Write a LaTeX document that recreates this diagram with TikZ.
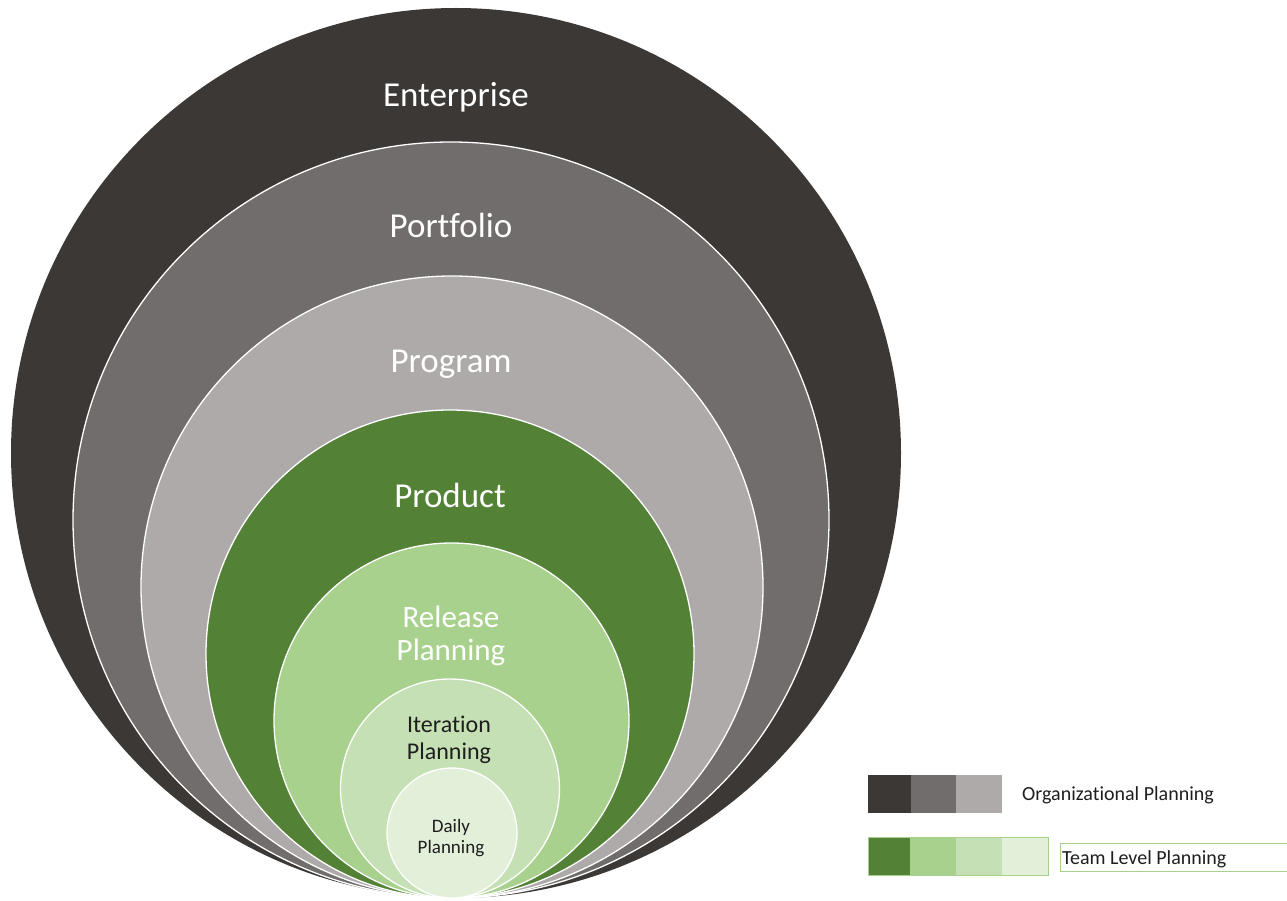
\documentclass[tikz,border=0pt]{standalone}
\usepackage{fontspec}
\setmainfont{Carlito}[Ligatures={NoCommon,NoRequired,NoContextual}]
\definecolor{entc}{HTML}{3B3836}
\definecolor{portc}{HTML}{716D6C}
\definecolor{progc}{HTML}{AEAAAA}
\definecolor{prodc}{HTML}{538135}
\definecolor{relc}{HTML}{A9D18E}
\definecolor{iterc}{HTML}{C5E0B4}
\definecolor{dayc}{HTML}{E2F0D9}
\definecolor{inkc}{HTML}{1E1E1E}
\definecolor{keyedge}{HTML}{A9D18E}
\begin{document}
\begin{tikzpicture}[x=1pt,y=-1pt,
  ring/.style={circle, inner sep=0pt, outer sep=0pt, draw=white, line width=1.3pt},
  lbl/.style={anchor=base, inner sep=0pt, text=white},
  dlbl/.style={anchor=base, inner sep=0pt, text=inkc},
  swatch/.style={rectangle, inner sep=0pt, outer sep=0pt, anchor=north west},
  keytext/.style={anchor=base west, inner sep=0pt, text=inkc, font=\fontsize{20}{24}\selectfont}]
\useasboundingbox (0,0) rectangle (1287,901);

% nested planning levels, all touching at the bottom
\node[ring, draw=none, fill=entc, minimum size=890pt] (ent) at (456,453) {};
\node[ring, fill=portc, minimum size=756pt] (port) at (451,520) {};
\node[ring, fill=progc, minimum size=622pt] (prog) at (452,587) {};
\node[ring, fill=prodc, minimum size=488pt] (prod) at (450,654) {};
\node[ring, fill=relc, minimum size=355pt] (rel) at (451.5,720.5) {};
\node[ring, fill=iterc, minimum size=219pt] (iter) at (450,788.5) {};
\node[ring, fill=dayc, minimum size=130pt] (day) at (452,833) {};

% level names
\node[lbl, font=\fontsize{35}{40}\selectfont] (entl) at (456,107) {Enterprise};
\node[lbl, font=\fontsize{35}{40}\selectfont] (portl) at (451,238) {Portfolio};
\node[lbl, font=\fontsize{35}{40}\selectfont] (progl) at (451,372) {Program};
\node[lbl, font=\fontsize{35}{40}\selectfont] (prodl) at (450,507) {Product};
\node[lbl, font=\fontsize{31}{36}\selectfont] (rell1) at (451,627) {Release};
\node[lbl, font=\fontsize{31}{36}\selectfont] (rell2) at (451,660) {Planning};
\node[dlbl, font=\fontsize{24}{28}\selectfont] (iterl1) at (449,732) {Iteration};
\node[dlbl, font=\fontsize{24}{28}\selectfont] (iterl2) at (449,759) {Planning};
\node[dlbl, font=\fontsize{19}{22}\selectfont] (dayl1) at (451,832) {Daily};
\node[dlbl, font=\fontsize{19}{22}\selectfont] (dayl2) at (451,853) {Planning};

% legend: organizational planning
\node[swatch, fill=entc, minimum width=43pt, minimum height=38pt] (o1) at (868,775) {};
\node[swatch, fill=portc, minimum width=45pt, minimum height=38pt] (o2) at (911,775) {};
\node[swatch, fill=progc, minimum width=46pt, minimum height=38pt] (o3) at (956,775) {};
\node[keytext] (otext) at (1022,800) {Organizational Planning};

% legend: team level planning
\node[swatch, fill=prodc, minimum width=42pt, minimum height=38pt] (t1) at (868,837) {};
\node[swatch, fill=relc, minimum width=46pt, minimum height=38pt] (t2) at (910,837) {};
\node[swatch, fill=iterc, minimum width=46pt, minimum height=38pt] (t3) at (956,837) {};
\node[swatch, fill=dayc, minimum width=46pt, minimum height=38pt] (t4) at (1002,837) {};
\draw[keyedge, line width=1pt] (t1.north west) rectangle (t4.south east);
\node[swatch, draw=keyedge, line width=1pt, minimum width=240pt, minimum height=28pt] (tbox) at (1060,843) {};
\node[keytext] (ttext) at (1062,864) {Team Level Planning};
\end{tikzpicture}
\end{document}
